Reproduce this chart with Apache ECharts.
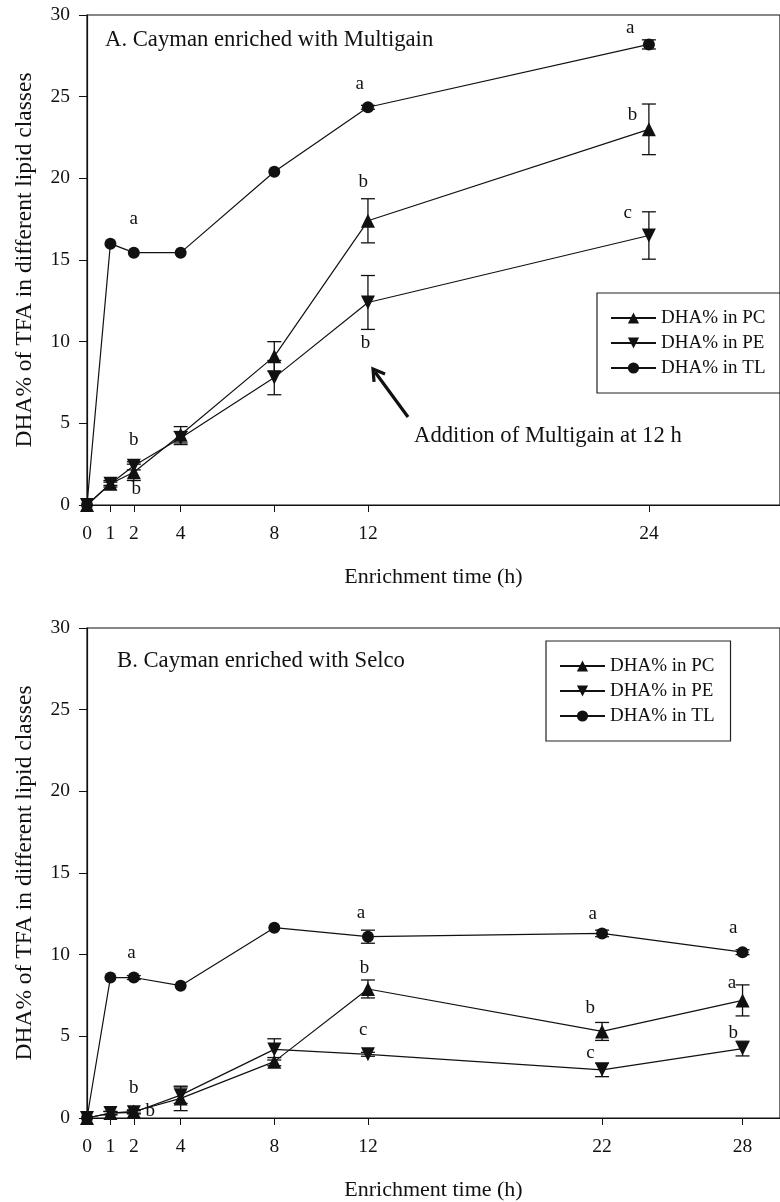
<!DOCTYPE html>
<html>
<head>
<meta charset="utf-8">
<script src="https://cdn.jsdelivr.net/npm/echarts@6/dist/echarts.min.js"></script>
<style>html,body{margin:0;padding:0;background:#fff}#c{width:780px;height:1202px}</style>
</head>
<body>
<div id="c"></div>
<script>
// ---------- DATA ----------
const hoursA = [0, 1, 2, 4, 8, 12, 24];
const pcA    = [0, 1.3, 2.0, 4.3, 9.1, 17.4, 23.0];
const pcAerr = [0, 0.2, 0.5, 0.5, 0.9, 1.35, 1.55];
const peA    = [0, 1.3, 2.4, 4.1, 7.8, 12.4, 16.5];
const peAerr = [0, 0.1, 0.25, 0.4, 1.05, 1.65, 1.45];
const tlA    = [0, 16.0, 15.45, 15.45, 20.4, 24.35, 28.2];
const tlAerr = [0, 0, 0, 0, 0, 0.12, 0.28];

const hoursB = [0, 1, 2, 4, 8, 12, 22, 28];
const pcB    = [0, 0.3, 0.4, 1.2, 3.45, 7.9, 5.3, 7.2];
const pcBerr = [0, 0.1, 0.1, 0.75, 0.25, 0.55, 0.55, 0.95];
const peB    = [0, 0.3, 0.35, 1.4, 4.2, 3.9, 2.95, 4.25];
const peBerr = [0, 0.1, 0.1, 0.5, 0.65, 0.12, 0.42, 0.45];
const tlB    = [0, 8.6, 8.6, 8.1, 11.65, 11.1, 11.3, 10.15];
const tlBerr = [0, 0, 0.12, 0, 0, 0.4, 0.2, 0.15];

const yTicks = [0, 5, 10, 15, 20, 25, 30];
const seriesNames = ['DHA% in PC', 'DHA% in PE', 'DHA% in TL'];

// significance letters: [hour, value, letter]
const lettersA = [
  [2.0, 17.5, 'a'], [2.0, 3.98, 'b'], [2.1, 0.98, 'b'],
  [11.65, 25.8, 'a'], [11.8, 19.8, 'b'], [11.9, 9.9, 'b'],
  [23.2, 29.2, 'a'], [23.3, 23.9, 'b'], [23.1, 17.9, 'c']
];
const lettersB = [
  [1.9, 10.1, 'a'], [2.0, 1.84, 'b'], [2.7, 0.43, 'b'],
  [11.7, 12.57, 'a'], [11.85, 9.19, 'b'], [11.8, 5.39, 'c'],
  [21.6, 12.49, 'a'], [21.5, 6.74, 'b'], [21.5, 3.98, 'c'],
  [27.6, 11.63, 'a'], [27.55, 8.27, 'a'], [27.6, 5.2, 'b']
];

const titleA = 'A. Cayman enriched with Multigain';
const titleB = 'B. Cayman enriched with Selco';
const noteA = 'Addition of Multigain at 12 h';
const yName = 'DHA% of TFA in different lipid classes';
const xName = 'Enrichment time (h)';

// ---------- CHART ----------
const FONT = 'Liberation Serif';
const INK = '#111';
const chart = echarts.init(document.getElementById('c'));

function pairs(xs, ys) { return xs.map((x, i) => [x, ys[i]]); }

function lineSeries(name, gi, xs, ys, sym) {
  return {
    name, type: 'line', xAxisIndex: gi, yAxisIndex: gi,
    data: pairs(xs, ys),
    symbol: sym === 'down' ? 'triangle' : sym,
    symbolRotate: sym === 'down' ? 180 : 0,
    symbolSize: sym === 'circle' ? 12 : 14,
    lineStyle: { color: INK, width: 1.2 },
    itemStyle: { color: INK },
    emphasis: { disabled: true },
    animation: false, z: 3
  };
}

function errSeries(gi, xs, ys, es) {
  const d = [];
  xs.forEach((x, i) => { if (es[i] > 0) d.push([x, ys[i], es[i]]); });
  return {
    type: 'custom', xAxisIndex: gi, yAxisIndex: gi, data: d, z: 2,
    encode: { x: 0, y: 1 }, animation: false, silent: true,
    renderItem(params, api) {
      const x = api.value(0), y = api.value(1), e = api.value(2);
      const t = api.coord([x, y + e]), b = api.coord([x, y - e]);
      const w = 7;
      const st = { stroke: INK, lineWidth: 1.3 };
      return { type: 'group', children: [
        { type: 'line', shape: { x1: t[0], y1: t[1], x2: b[0], y2: b[1] }, style: st },
        { type: 'line', shape: { x1: t[0] - w, y1: t[1], x2: t[0] + w, y2: t[1] }, style: st },
        { type: 'line', shape: { x1: b[0] - w, y1: b[1], x2: b[0] + w, y2: b[1] }, style: st }
      ]};
    }
  };
}

function letterSeries(gi, arr) {
  return {
    type: 'custom', xAxisIndex: gi, yAxisIndex: gi,
    data: arr.map(r => [r[0], r[1]]), encode: { x: 0, y: 1 },
    animation: false, silent: true, z: 4,
    renderItem(params, api) {
      const p = api.coord([api.value(0), api.value(1)]);
      return { type: 'text', x: p[0], y: p[1], style: {
        text: arr[params.dataIndex][2], fill: INK, font: '19px ' + FONT,
        align: 'center', verticalAlign: 'middle' } };
    }
  };
}

function xAxis(gi, ticks) {
  return {
    type: 'value', gridIndex: gi, min: 0, max: 29.6,
    name: xName, nameLocation: 'middle', nameGap: 61,
    nameTextStyle: { fontFamily: FONT, fontSize: 22, color: INK },
    axisLine: { lineStyle: { color: INK, width: 1.2 } },
    axisTick: { customValues: ticks, length: 7, lineStyle: { color: INK } },
    axisLabel: { customValues: ticks, fontFamily: FONT, fontSize: 19.5, color: INK, margin: 19 },
    splitLine: { show: false }
  };
}
function yAxis(gi) {
  return {
    type: 'value', gridIndex: gi, min: 0, max: 30, interval: 5,
    name: yName, nameLocation: 'middle', nameRotate: 90, nameGap: 50,
    nameTextStyle: { fontFamily: FONT, fontSize: 23.5, color: INK },
    axisLine: { show: true, lineStyle: { color: INK, width: 1.2 } },
    axisTick: { show: true, length: 8, lineStyle: { color: INK } },
    axisLabel: { fontFamily: FONT, fontSize: 19.5, color: INK, margin: 17,
      customValues: yTicks },
    splitLine: { show: false }
  };
}

function legend(left, top) {
  return {
    left, top, orient: 'vertical', data: seriesNames, selectedMode: false,
    borderColor: '#222', borderWidth: 1.2, padding: [15, 16, 15, 13],
    itemWidth: 45, itemHeight: 14, itemGap: 5,
    textStyle: { fontFamily: FONT, fontSize: 19, color: INK, lineHeight: 20 }
  };
}

// arrow geometry for the annotation
const tip = [373, 369], tail = [408, 417];
const ang = Math.atan2(tail[1] - tip[1], tail[0] - tip[0]);
const hl = 13, ha = 0.55;
const h1 = [tip[0] + hl * Math.cos(ang + ha), tip[1] + hl * Math.sin(ang + ha)];
const h2 = [tip[0] + hl * Math.cos(ang - ha), tip[1] + hl * Math.sin(ang - ha)];

chart.setOption({
  backgroundColor: '#fff',
  animation: false,
  grid: [
    { left: 87, right: -3, top: 15, height: 490, show: true, borderColor: INK, borderWidth: 1.2, backgroundColor: 'transparent' },
    { left: 87, right: -3, top: 628, height: 490, show: true, borderColor: INK, borderWidth: 1.2, backgroundColor: 'transparent' }
  ],
  xAxis: [xAxis(0, hoursA), xAxis(1, hoursB)],
  yAxis: [yAxis(0), yAxis(1)],
  legend: [legend(597, 293), legend(546, 641)],
  series: [
    errSeries(0, hoursA, pcA, pcAerr), errSeries(0, hoursA, peA, peAerr), errSeries(0, hoursA, tlA, tlAerr),
    lineSeries(seriesNames[0], 0, hoursA, pcA, 'triangle'),
    lineSeries(seriesNames[1], 0, hoursA, peA, 'down'),
    lineSeries(seriesNames[2], 0, hoursA, tlA, 'circle'),
    letterSeries(0, lettersA),
    errSeries(1, hoursB, pcB, pcBerr), errSeries(1, hoursB, peB, peBerr), errSeries(1, hoursB, tlB, tlBerr),
    lineSeries(seriesNames[0], 1, hoursB, pcB, 'triangle'),
    lineSeries(seriesNames[1], 1, hoursB, peB, 'down'),
    lineSeries(seriesNames[2], 1, hoursB, tlB, 'circle'),
    letterSeries(1, lettersB)
  ],
  graphic: [
    { type: 'text', left: 105, top: 29, style: { text: titleA, font: '22.7px ' + FONT, fill: INK } },
    { type: 'text', left: 117, top: 650, style: { text: titleB, font: '22.7px ' + FONT, fill: INK } },
    { type: 'text', left: 414, top: 425, style: { text: noteA, font: '22.7px ' + FONT, fill: INK } },
    { type: 'line', shape: { x1: tail[0], y1: tail[1], x2: tip[0] + 2, y2: tip[1] + 3 }, style: { stroke: INK, lineWidth: 3.2 } },
    { type: 'polyline', shape: { points: [h1, tip, h2] }, style: { stroke: INK, lineWidth: 3.2, fill: null } }
  ]
});
</script>
</body>
</html>
